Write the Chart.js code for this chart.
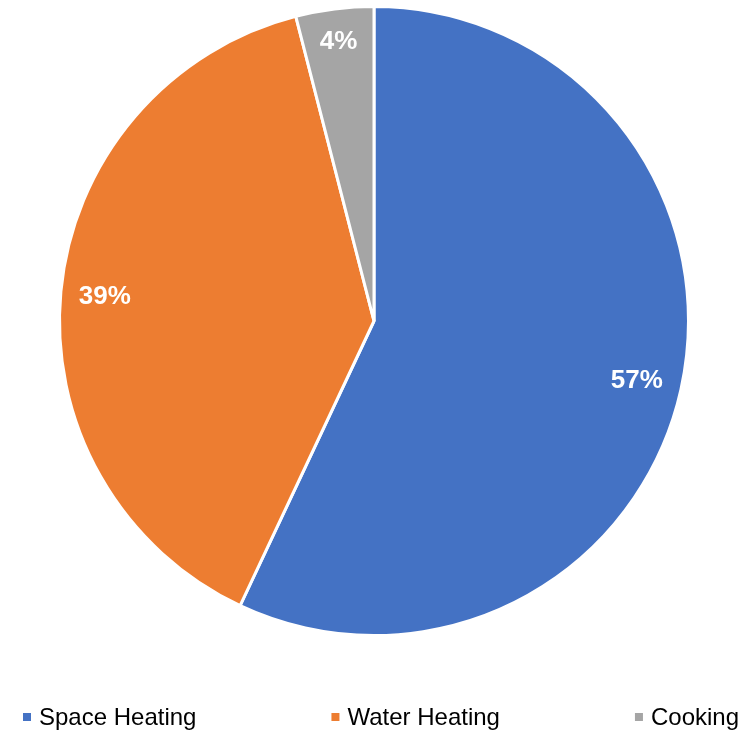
<!DOCTYPE html>
<html>
<head>
<meta charset="utf-8">
<script src="https://cdn.jsdelivr.net/npm/chart.js@4.4.1/dist/chart.umd.min.js"></script>
<style>
  html, body { margin: 0; padding: 0; background: #fff; }
  #wrap { width: 754px; height: 731px; }
</style>
</head>
<body>
<div id="wrap"><canvas id="pie"></canvas></div>
<script>
const categories = ['Space Heating', 'Water Heating', 'Cooking'];
const shares = [57, 39, 4];
const sliceColors = ['#4472C4', '#ED7D31', '#A5A5A5'];

// percent labels placed just inside the outer edge of each slice
const sliceLabels = {
    id: 'sliceLabels',
    afterDatasetsDraw(chart) {
        const ctx = chart.ctx;
        const meta = chart.getDatasetMeta(0);
        const total = shares.reduce((a, b) => a + b, 0);
        ctx.save();
        ctx.font = 'bold 26px "Liberation Sans", Arial, sans-serif';
        ctx.fillStyle = '#ffffff';
        ctx.textAlign = 'center';
        ctx.textBaseline = 'middle';
        meta.data.forEach((arc, i) => {
            const p = arc.getProps(['x', 'y', 'startAngle', 'endAngle', 'outerRadius'], true);
            const mid = (p.startAngle + p.endAngle) / 2;
            const text = Math.round(shares[i] / total * 100) + '%';
            const halfW = ctx.measureText(text).width / 2;
            const halfH = 13;
            const inset = Math.abs(Math.cos(mid)) * halfW + Math.abs(Math.sin(mid)) * halfH + 17;
            const r = p.outerRadius - inset;
            ctx.fillText(text, p.x + Math.cos(mid) * r, p.y + Math.sin(mid) * r + 1);
        });
        ctx.restore();
    }
};

// legend row spread across the bottom of the canvas
const spreadLegend = {
    id: 'spreadLegend',
    afterDraw(chart) {
        const ctx = chart.ctx;
        const left = 23, right = 739, y = 717, box = 8, gap = 8;
        ctx.save();
        ctx.font = '24px "Liberation Sans", Arial, sans-serif';
        ctx.textBaseline = 'middle';
        ctx.textAlign = 'left';
        const widths = categories.map(c => box + gap + ctx.measureText(c).width);
        const used = widths.reduce((a, b) => a + b, 0);
        const space = (right - left - used) / (categories.length - 1);
        let x = left;
        categories.forEach((c, i) => {
            ctx.fillStyle = sliceColors[i];
            ctx.fillRect(x, y - box / 2, box, box);
            ctx.fillStyle = '#000000';
            ctx.fillText(c, x + box + gap, y + 1);
            x += widths[i] + space;
        });
        ctx.restore();
    }
};

new Chart(document.getElementById('pie'), {
    type: 'pie',
    data: {
        labels: categories,
        datasets: [{
            data: shares,
            backgroundColor: sliceColors,
            borderColor: '#ffffff',
            borderWidth: 3
        }]
    },
    options: {
        responsive: true,
        maintainAspectRatio: false,
        animation: false,
        layout: { padding: { top: 5, bottom: 94, left: 0, right: 6 } },
        plugins: {
            legend: { display: false },
            tooltip: { enabled: false }
        }
    },
    plugins: [sliceLabels, spreadLegend]
});
</script>
</body>
</html>
